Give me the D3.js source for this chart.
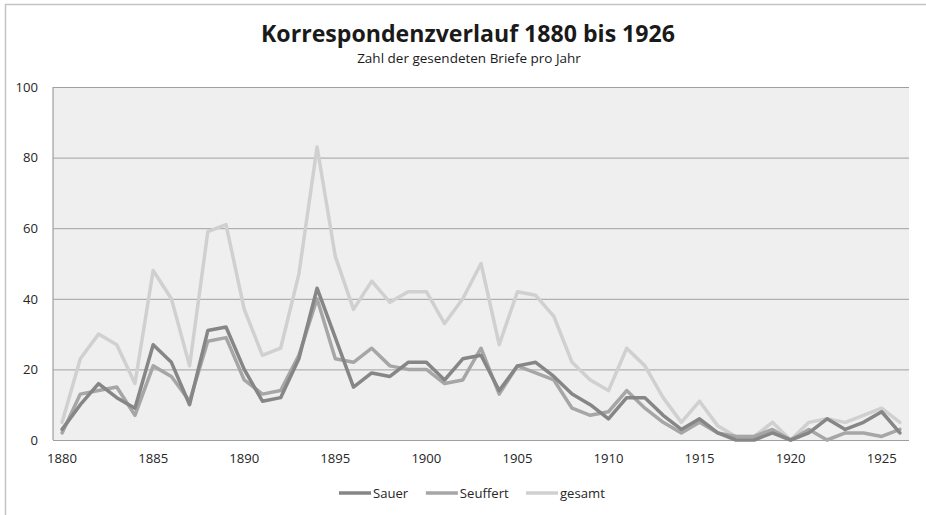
<!DOCTYPE html>
<html>
<head>
<meta charset="utf-8">
<script src="https://cdn.jsdelivr.net/npm/d3@7"></script>
<style>
    body { margin: 0; background: #fff; }
    svg text { font-family: "Open Sans", sans-serif; fill: #262626; }
</style>
</head>
<body>
<svg id="chart"></svg>
<script>
// Jahre 1880 bis 1926
const years = d3.range(1880, 1927);

const sauer = [3, 10, 16, 12, 9, 27, 22, 10, 31, 32,
    20, 11, 12, 23, 43, 29, 15, 19, 18, 22,
    22, 17, 23, 24, 14, 21, 22, 18, 13, 10,
    6, 12, 12, 7, 3, 6, 2, 0, 0, 2,
    0, 2, 6, 3, 5, 8, 2];

const seuffert = [2, 13, 14, 15, 7, 21, 18, 11, 28, 29,
    17, 13, 14, 24, 40, 23, 22, 26, 21, 20,
    20, 16, 17, 26, 13, 21, 19, 17, 9, 7,
    8, 14, 9, 5, 2, 5, 2, 1, 1, 3,
    0, 3, 0, 2, 2, 1, 3];

const gesamt = [5, 23, 30, 27, 16, 48, 40, 21, 59, 61,
    37, 24, 26, 47, 83, 52, 37, 45, 39, 42,
    42, 33, 40, 50, 27, 42, 41, 35, 22, 17,
    14, 26, 21, 12, 5, 11, 4, 1, 1, 5,
    0, 5, 6, 5, 7, 9, 5];

const seriesNames = ["Sauer", "Seuffert", "gesamt"];
const seriesColors = ["#868686", "#a6a6a6", "#d0d0d0"];
const yTicks = [0, 20, 40, 60, 80, 100];
const xTicks = [1880, 1885, 1890, 1895, 1900, 1905, 1910, 1915, 1920, 1925];

const series = [sauer, seuffert, gesamt].map((values, i) => ({
    name: seriesNames[i],
    color: seriesColors[i],
    values: values.map((v, j) => ({year: years[j], value: v}))
}));

const width = 926, height = 515;
const plot = {left: 53, right: 909, top: 87, bottom: 440};

const svg = d3.select("#chart")
    .attr("width", width)
    .attr("height", height);

// Schriftgroesse so waehlen, dass der Text eine bestimmte Breite hat
function fitSize(text, weight, target) {
    const t = svg.append("text")
        .style("font-size", "20px")
        .style("font-weight", weight)
        .text(text);
    const w = t.node().getComputedTextLength();
    t.remove();
    return 20 * target / w;
}

const labelSize = fitSize("1895", "normal", 30);
const titleSize = fitSize("Korrespondenzverlauf 1880 bis 1926", "bold", 414);
const subSize = fitSize("Zahl der gesendeten Briefe pro Jahr", "normal", 224);

// Rahmen
svg.append("rect")
    .attr("x", 5.5)
    .attr("y", 4.5)
    .attr("width", 1000)
    .attr("height", 600)
    .style("fill", "none")
    .style("stroke", "#c4c4c4")
    .style("stroke-width", "1.5px");

const x = d3.scaleBand()
    .domain(years)
    .range([plot.left, plot.right])
    .padding(0);

const y = d3.scaleLinear()
    .domain([0, 100])
    .range([plot.bottom, plot.top]);

const cx = d => x(d) + x.bandwidth() / 2;

svg.append("rect")
    .attr("x", plot.left)
    .attr("y", plot.top)
    .attr("width", plot.right - plot.left)
    .attr("height", plot.bottom - plot.top)
    .style("fill", "#efefef");

// Gitternetz + y-Achse
const yAxis = svg.append("g")
    .attr("transform", `translate(${plot.left} 0)`)
    .call(d3.axisLeft(y)
        .tickValues(yTicks)
        .tickSize(-(plot.right - plot.left))
        .tickPadding(15));

yAxis.select(".domain")
    .attr("d", `M0,${plot.top}V${plot.bottom}`)
    .style("stroke", "#8c8c8c");
yAxis.selectAll(".tick line")
    .style("stroke", "#a0a0a0")
    .style("stroke-width", "1px");
yAxis.selectAll("text")
    .style("font-size", labelSize + "px");

// x-Achse
const xAxis = svg.append("g")
    .attr("transform", `translate(0 ${plot.bottom})`)
    .call(d3.axisBottom(x)
        .tickValues(xTicks)
        .tickSize(0)
        .tickPadding(14));

xAxis.select(".domain").remove();
xAxis.selectAll("text")
    .style("font-size", labelSize + "px");

// Linien
const line = d3.line()
    .x(d => cx(d.year))
    .y(d => y(d.value));

svg.selectAll(".series")
    .data(series.slice().reverse())
    .enter()
    .append("path")
    .attr("class", "series")
    .attr("d", d => line(d.values))
    .style("fill", "none")
    .style("stroke", d => d.color)
    .style("stroke-width", "3.5px")
    .style("stroke-linejoin", "round")
    .style("stroke-linecap", "round");

// Titel
svg.append("text")
    .attr("x", 468)
    .attr("y", 42)
    .attr("text-anchor", "middle")
    .style("font-size", titleSize + "px")
    .style("font-weight", "bold")
    .style("fill", "#1a1a1a")
    .text("Korrespondenzverlauf 1880 bis 1926");

svg.append("text")
    .attr("x", 469)
    .attr("y", 63)
    .attr("text-anchor", "middle")
    .style("font-size", subSize + "px")
    .style("fill", "#1a1a1a")
    .text("Zahl der gesendeten Briefe pro Jahr");

// Legende
const legend = svg.append("g")
    .attr("transform", `translate(0 ${493})`);

const items = legend.selectAll(".item")
    .data(series)
    .enter()
    .append("g")
    .attr("class", "item");

items.append("line")
    .attr("x1", 0)
    .attr("x2", 32)
    .style("stroke", d => d.color)
    .style("stroke-width", "3.5px");

items.append("text")
    .attr("x", 34)
    .attr("dy", "0.35em")
    .style("font-size", labelSize + "px")
    .text(d => d.name);

let offset = 339;
items.each(function () {
    const w = this.getBBox().width;
    d3.select(this).attr("transform", `translate(${offset} 0)`);
    offset += w + 17;
});
</script>
</body>
</html>
